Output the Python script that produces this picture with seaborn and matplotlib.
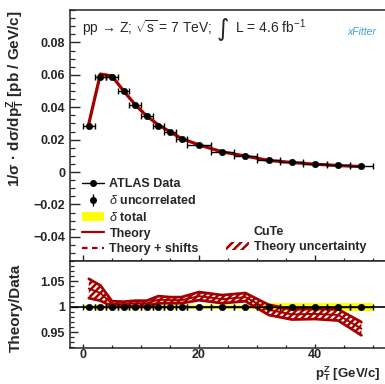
import numpy as np
import pandas as pd
import matplotlib
matplotlib.use("Agg")
import matplotlib.pyplot as plt
import seaborn as sns
from matplotlib.lines import Line2D
from matplotlib.patches import Patch

# bin centres / edges [GeV/c]
pt = [1, 3, 5, 7, 9, 11, 13, 15, 17, 20, 24, 28, 32, 36, 40, 44, 48]
pt_lo = [0, 2, 4, 6, 8, 10, 12, 14, 16, 18, 22, 26, 30, 34, 38, 42, 46]
pt_hi = [2, 4, 6, 8, 10, 12, 14, 16, 18, 22, 26, 30, 34, 38, 42, 46, 50]

# measured 1/sigma dsigma/dpT
data = [0.0287, 0.0589, 0.0589, 0.0498, 0.0413, 0.0343, 0.0287, 0.0245, 0.0204,
        0.0164, 0.0123, 0.0097, 0.0072, 0.0060, 0.0049, 0.0041, 0.0035]
# relative total uncertainty of data
tot_rel = [0.0045, 0.0045, 0.0045, 0.0045, 0.0045, 0.0045, 0.0045, 0.0045, 0.0045,
           0.0045, 0.0045, 0.0045, 0.008, 0.008, 0.008, 0.008, 0.008]
# theory / data ratio and its uncertainty
ratio = [1.036, 1.027, 1.006, 1.005, 1.007, 1.007, 1.014, 1.013, 1.013,
         1.021, 1.015, 1.019, 0.994, 0.985, 0.986, 0.984, 0.957]
ratio_err = [0.019, 0.015, 0.005, 0.005, 0.005, 0.005, 0.007, 0.006, 0.006,
             0.008, 0.008, 0.008, 0.010, 0.010, 0.010, 0.011, 0.013]

df = pd.DataFrame({"pt": pt, "lo": pt_lo, "hi": pt_hi, "data": data,
                   "tot": tot_rel, "ratio": ratio, "rerr": ratio_err})
df["xerr"] = (df["hi"] - df["lo"]) / 2
df["theory"] = df["data"] * df["ratio"]

sns.set_style("ticks")
plt.rcParams["font.family"] = ["Liberation Sans", "DejaVu Sans"]
plt.rcParams["mathtext.fontset"] = "custom"
plt.rcParams["mathtext.rm"] = "Liberation Sans"
plt.rcParams["mathtext.bf"] = "Liberation Sans:bold"
plt.rcParams["mathtext.it"] = "Liberation Sans:italic"
plt.rcParams["hatch.linewidth"] = 1.8
plt.rcParams["axes.linewidth"] = 1.1

RED = "#a50000"
W, H = 385, 384
fig = plt.figure(figsize=(3.85, 3.84), dpi=100)
ax = fig.add_axes([70 / W, 1 - 261 / H, 319 / W, 251 / H])
axr = fig.add_axes([70 / W, 1 - 348 / H, 319 / W, 87 / H])
for a in (ax, axr):
    a.spines["right"].set_visible(False)

# step arrays for bands
edges = np.append(df["lo"].values, df["hi"].values[-1])
def steps(v):
    return np.append(v, v[-1])

# ---- top panel ----
dv = df["data"].values
tv = df["tot"].values
ax.fill_between(edges, steps(dv * (1 - tv)), steps(dv * (1 + tv)), step="post",
                color="#ffff00", lw=0)
sns.lineplot(data=df, x="pt", y="theory", ax=ax, color=RED, lw=2.3)
ax.errorbar(df["pt"], df["data"], xerr=df["xerr"], fmt="none", ecolor="black",
            elinewidth=1.0, capsize=2.5, capthick=1.0)
sns.scatterplot(data=df, x="pt", y="data", ax=ax, color="black", s=22,
                edgecolor="black", zorder=5)

ax.set_xlim(-2.24, 52.76)
ax.set_ylim(-0.0549, 0.0995)
ax.set_yticks([-0.04, -0.02, 0, 0.02, 0.04, 0.06, 0.08])
ax.set_yticklabels(["\u22120.04", "\u22120.02", "0", "0.02", "0.04", "0.06", "0.08"])
ax.set_yticks(np.arange(-0.05, 0.1, 0.005), minor=True)
ax.set_xticks([0, 20, 40])
ax.set_xticks(np.arange(0, 55, 5), minor=True)
ax.tick_params(axis="x", labelbottom=False)
ax.tick_params(axis="y", which="major", direction="in", length=7, width=1.0,
               labelsize=9)
ax.tick_params(axis="y", which="minor", direction="in", length=3.6, width=0.9)
ax.tick_params(axis="x", which="major", direction="in", length=4.5, width=1.0)
ax.tick_params(axis="x", which="minor", direction="in", length=2.5, width=0.9)
for t in ax.get_yticklabels():
    t.set_fontweight("bold")
ax.set_xlabel("")
ax.set_ylabel("")

# legend
blank = Line2D([], [], alpha=0)
handles = [
    Line2D([0], [0], color="black", marker="o", markersize=4, lw=1),
    (Line2D([0], [0], color="black", marker="|", markersize=8, lw=0,
            markeredgewidth=1.0),
     Line2D([0], [0], color="black", marker="o", markersize=4, lw=0)),
    Patch(facecolor="#ffff00", edgecolor="none"),
    Line2D([0], [0], color=RED, lw=1.6),
    Line2D([0], [0], color=RED, lw=1.6, ls=(0, (2.5, 2))),
    blank, blank, blank, blank,
    Patch(facecolor="none", edgecolor=RED, hatch="////", lw=0),
]
labels = ["ATLAS Data", r"$\delta$ uncorrelated", r"$\delta$ total", "Theory",
          "Theory + shifts", "", "", "", "CuTe", "Theory uncertainty"]
leg = ax.legend(handles, labels, ncol=2, loc="upper left",
                bbox_to_anchor=(0.0376, 0.329), frameon=False, borderpad=0,
                borderaxespad=0, handlelength=1.8, handletextpad=0.4,
                labelspacing=0.3, columnspacing=2.2,
                prop={"weight": "bold", "size": 9})

# ---- ratio panel ----
tv_lo = 1 - tv
tv_hi = 1 + tv
axr.fill_between(edges, steps(tv_lo), steps(tv_hi), step="post",
                 color="#ffff00", lw=0)
axr.axhline(1.0, color="black", lw=1.2)
rv = df["ratio"].values
re = df["rerr"].values
axr.fill_between(df["pt"], rv - re, rv + re, facecolor="none", edgecolor=RED,
                 hatch="/////", lw=0)
sns.lineplot(x=df["pt"], y=rv + re, ax=axr, color=RED, lw=2.0)
sns.lineplot(x=df["pt"], y=rv, ax=axr, color=RED, lw=1.4)
sns.lineplot(x=df["pt"], y=rv - re, ax=axr, color=RED, lw=2.0)
axr.errorbar(df["pt"], np.ones(len(pt)), xerr=df["xerr"], yerr=0.002,
             fmt="none", ecolor="black", elinewidth=1.0, capsize=2.0, capthick=1.0)
sns.scatterplot(x=df["pt"], y=np.ones(len(pt)), ax=axr, color="black", s=22,
                edgecolor="black", zorder=5)

axr.set_xlim(-2.24, 52.76)
axr.set_ylim(0.919, 1.0865)
axr.set_yticks([0.95, 1.0, 1.05])
axr.set_yticklabels(["0.95", "1", "1.05"])
axr.set_yticks(np.arange(0.92, 1.09, 0.01), minor=True)
axr.set_xticks([0, 20, 40])
axr.set_xticks(np.arange(0, 55, 5), minor=True)
axr.tick_params(axis="y", which="major", direction="in", length=5.5, width=1.0,
                labelsize=9)
axr.tick_params(axis="y", which="minor", direction="in", length=3, width=0.9)
axr.tick_params(axis="x", which="major", direction="in", length=3, width=1.0,
                labelsize=9, pad=1)
axr.tick_params(axis="x", which="minor", direction="in", length=2, width=0.9)
for t in axr.get_yticklabels() + axr.get_xticklabels():
    t.set_fontweight("bold")
axr.set_xlabel("")
axr.set_ylabel("")

# ---- texts ----
fig.text(16 / W, 1 - 10 / H,
         r"1/σ · dσ/dp$_{\mathbf{T}}^{\mathbf{Z}}$ [pb / GeV/c]",
         rotation=90, ha="center", va="top", fontsize=11, fontweight="bold")
fig.text(16 / W, 1 - 308 / H, "Theory/Data", rotation=90, ha="center",
         va="center", fontsize=11, fontweight="bold")
fig.text(381 / W, 1 - 383 / H, r"p$_{\mathbf{T}}^{\mathbf{Z}}$ [GeV/c]",
         ha="right", va="bottom", fontsize=9.5, fontweight="bold")
fig.text(82 / W, 1 - 33 / H,
         "pp \u2192 Z; " + r"$\sqrt{\mathrm{s}}$ = 7 TeV;",
         ha="left", va="baseline", fontsize=10)
fig.text(223 / W, 1 - 29 / H, "\u222b", ha="center", va="center",
         fontsize=17, family="DejaVu Sans")
fig.text(235 / W, 1 - 33 / H, r"L = 4.6 fb$^{-1}$",
         ha="left", va="baseline", fontsize=10)
fig.text(362 / W, 1 - 32 / H, "xFitter", ha="center", va="center",
         fontsize=7.5, style="italic", color="#3c9fdc")

fig.savefig("out.png", dpi=100)
